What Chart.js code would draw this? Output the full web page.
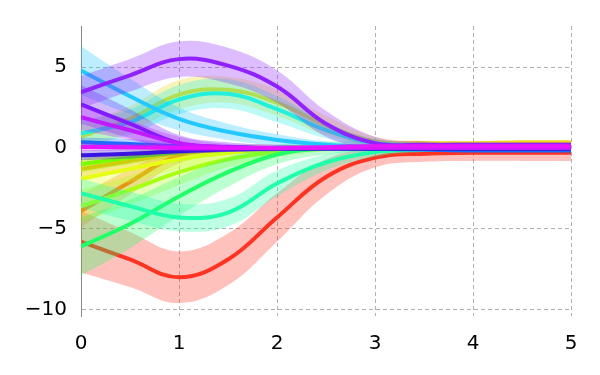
<!DOCTYPE html>
<html>
<head>
<meta charset="utf-8">
<script src="https://cdn.jsdelivr.net/npm/chart.js@4/dist/chart.umd.min.js"></script>
<style>
  html, body { margin: 0; padding: 0; background: #fff; }
  #wrap { width: 600px; height: 375px; }
</style>
</head>
<body>
<div id="wrap"><canvas id="chart" width="600" height="375"></canvas></div>
<script>
const xs = [0, 0.5, 1, 1.5, 2, 2.5, 3, 3.5, 4, 4.5, 5];
const xTicks = [0, 1, 2, 3, 4, 5];
const yTicks = [-10, -5, 0, 5];

// mean curves and band half-widths, one pair per run
const red = [-5.8, -6.9, -8.0, -6.9, -4.3, -1.8, -0.6, -0.35, -0.3, -0.3, -0.3];
const redSd = [1.9, 1.7, 1.6, 1.6, 1.5, 1.1, 0.6, 0.5, 0.5, 0.5, 0.5];
const orange = [-3.9, -2.1, -0.45, -0.1, 0, 0, 0, 0, 0, 0, 0];
const orangeSd = [1.0, 0.8, 0.5, 0.3, 0.2, 0.15, 0.1, 0.1, 0.1, 0.1, 0.1];
const amber = [-1.3, -0.8, -0.3, -0.1, 0, 0, 0, 0, 0, 0, 0];
const amberSd = [0.6, 0.5, 0.3, 0.2, 0.1, 0.1, 0.1, 0.1, 0.1, 0.1, 0.1];
const gold = [0.7, 1.8, 3.3, 3.6, 2.8, 1.4, 0.4, 0.3, 0.3, 0.35, 0.35];
const goldSd = [0.8, 0.8, 0.9, 0.8, 0.8, 0.6, 0.3, 0.15, 0.1, 0.1, 0.1];
const yellow = [-1.9, -1.3, -0.7, -0.3, -0.1, 0, 0, 0, 0, 0, 0];
const yellowSd = [0.9, 0.8, 0.6, 0.4, 0.2, 0.1, 0.1, 0.1, 0.1, 0.1, 0.1];
const lime = [-3.6, -2.6, -1.5, -0.7, -0.25, -0.05, 0, 0, 0, 0, 0];
const limeSd = [1.0, 0.9, 0.8, 0.5, 0.3, 0.15, 0.1, 0.1, 0.1, 0.1, 0.1];
const chartreuse = [-1.0, -0.6, -0.25, -0.05, 0, 0, 0, 0, 0, 0, 0];
const chartreuseSd = [0.5, 0.4, 0.3, 0.2, 0.1, 0.1, 0.1, 0.1, 0.1, 0.1, 0.1];
const spring = [-6.1, -4.7, -3.0, -1.5, -0.4, 0.0, 0.1, 0.1, 0.1, 0.1, 0.1];
const springSd = [1.8, 1.5, 1.2, 0.9, 0.6, 0.4, 0.3, 0.2, 0.15, 0.1, 0.1];
const aqua = [-2.8, -3.6, -4.3, -4.0, -2.2, -0.9, -0.25, -0.1, 0, 0, 0];
const aquaSd = [0.9, 0.9, 0.85, 0.85, 0.8, 0.5, 0.3, 0.15, 0.1, 0.1, 0.1];
const turquoise = [0.9, 1.6, 3.0, 3.35, 2.4, 1.1, 0.3, 0.15, 0.1, 0.1, 0.1];
const turquoiseSd = [0.8, 0.8, 0.9, 0.9, 0.8, 0.5, 0.25, 0.15, 0.1, 0.1, 0.1];
const sky = [4.8, 3.2, 1.8, 1.0, 0.5, 0.2, 0.05, 0, 0, 0, 0];
const skySd = [1.5, 1.1, 0.7, 0.5, 0.35, 0.2, 0.1, 0.1, 0.1, 0.1, 0.1];
const blue = [0.35, 0.25, 0.1, 0.05, 0, 0, -0.05, -0.1, -0.15, -0.15, -0.15];
const blueSd = [0.3, 0.3, 0.2, 0.15, 0.1, 0.1, 0.1, 0.1, 0.1, 0.1, 0.1];
const indigo = [-0.45, -0.35, -0.2, -0.1, -0.05, -0.05, -0.05, -0.05, -0.05, -0.05, -0.05];
const indigoSd = [0.3, 0.3, 0.2, 0.15, 0.1, 0.1, 0.1, 0.1, 0.1, 0.1, 0.1];
const blueViolet = [2.7, 1.5, 0.3, 0.05, 0, 0, 0, 0, 0, 0, 0];
const blueVioletSd = [1.2, 0.9, 0.5, 0.3, 0.2, 0.1, 0.1, 0.1, 0.1, 0.1, 0.1];
const purple = [3.45, 4.5, 5.5, 5.1, 3.8, 1.5, 0.3, 0.2, 0.2, 0.2, 0.2];
const purpleSd = [1.0, 1.0, 1.1, 1.1, 1.0, 0.8, 0.4, 0.2, 0.15, 0.15, 0.15];
const violet = [1.9, 1.1, 0.3, 0.05, 0, 0, 0, 0, 0, 0, 0];
const violetSd = [0.8, 0.6, 0.4, 0.2, 0.1, 0.1, 0.1, 0.1, 0.1, 0.1, 0.1];
const magenta = [0.06, 0.05, 0.02, 0, 0, 0.05, 0.1, 0.1, 0.1, 0.1, 0.1];
const magentaSd = [0.25, 0.2, 0.2, 0.15, 0.15, 0.15, 0.15, 0.15, 0.15, 0.15, 0.15];

// drawn in this order, first at the bottom
const runs = [
  [red, redSd, [255, 51, 34]],
  [orange, orangeSd, [255, 106, 20]],
  [amber, amberSd, [255, 154, 20]],
  [gold, goldSd, [240, 216, 24]],
  [yellow, yellowSd, [230, 255, 20]],
  [lime, limeSd, [168, 255, 20]],
  [chartreuse, chartreuseSd, [120, 255, 0]],
  [spring, springSd, [34, 255, 102]],
  [aqua, aquaSd, [34, 255, 170]],
  [turquoise, turquoiseSd, [34, 240, 221]],
  [sky, skySd, [34, 200, 255]],
  [blue, blueSd, [26, 106, 255]],
  [indigo, indigoSd, [58, 20, 224]],
  [blueViolet, blueVioletSd, [106, 26, 255]],
  [purple, purpleSd, [143, 34, 255]],
  [violet, violetSd, [192, 26, 255]],
  [magenta, magentaSd, [230, 20, 255]],
];

function pts(values) {
  return values.map((v, i) => ({ x: xs[i], y: v }));
}

function buildDatasets() {
  const sets = [];
  const n = runs.length;
  runs.forEach(([mean, sd, rgb], i) => {
    const c = rgb.join(",");
    const base = (n - i) * 3;
    sets.push({
      data: pts(mean.map((m, k) => m + sd[k])),
      borderWidth: 0,
      pointRadius: 0,
      backgroundColor: `rgba(${c},0.3)`,
      fill: "+1",
      order: base + 2,
    });
    sets.push({
      data: pts(mean.map((m, k) => m - sd[k])),
      borderWidth: 0,
      pointRadius: 0,
      fill: false,
      order: base + 1,
    });
    sets.push({
      data: pts(mean),
      borderColor: `rgb(${c})`,
      borderWidth: 4,
      pointRadius: 0,
      fill: false,
      order: base,
    });
  });
  return sets;
}

const minus = (v) => String(v).replace("-", "\u2212");
const tickFont = { family: "DejaVu Sans", size: 20 };
const gridStyle = { color: "#b0b0b0", lineWidth: 1, drawTicks: false };

new Chart(document.getElementById("chart").getContext("2d"), {
  type: "line",
  data: { datasets: buildDatasets() },
  options: {
    responsive: false,
    animation: false,
    elements: { line: { tension: 0.4, capBezierPoints: false } },
    layout: { padding: { top: 22, right: 29, left: 0, bottom: 0 } },
    plugins: { legend: { display: false }, tooltip: { enabled: false } },
    scales: {
      x: {
        type: "linear",
        min: 0,
        max: 5,
        afterBuildTicks: (s) => { s.ticks = xTicks.map((v) => ({ value: v })); },
        afterFit: (s) => { s.height = 59; },
        grid: gridStyle,
        border: { display: false, dash: [4, 3] },
        ticks: { color: "#000", font: tickFont, padding: 16, maxRotation: 0 },
      },
      y: {
        min: -10.4,
        max: 7.55,
        afterBuildTicks: (s) => { s.ticks = yTicks.map((v) => ({ value: v })); },
        afterFit: (s) => { s.width = 81; },
        grid: gridStyle,
        border: { display: true, color: "#888", width: 1, dash: [4, 3] },
        ticks: { color: "#000", font: tickFont, padding: 14, callback: minus },
      },
    },
  },
});
</script>
</body>
</html>
